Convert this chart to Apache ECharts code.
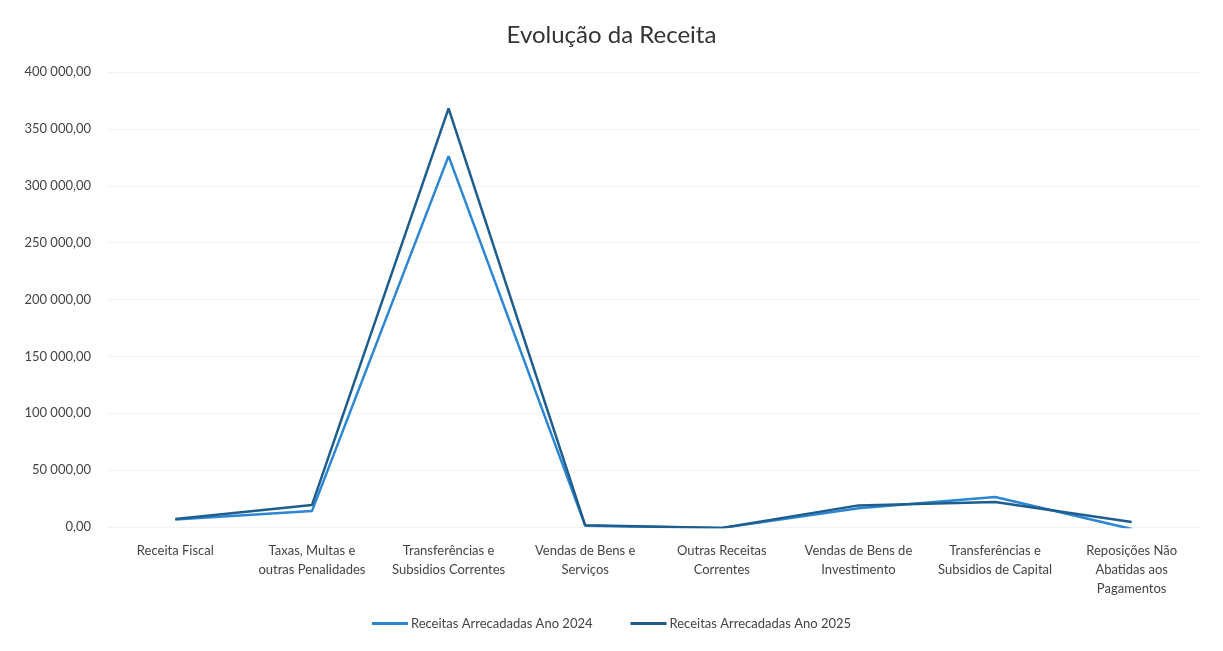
<!DOCTYPE html>
<html>
<head>
<meta charset="utf-8">
<title>Evolução da Receita</title>
<script src="https://cdn.jsdelivr.net/npm/echarts@6/dist/echarts.min.js"></script>
<style>
    html, body { margin: 0; padding: 0; background: #fff; }
    #chart { width: 1223px; height: 651px; }
</style>
</head>
<body>
<div id="chart"></div>
<script>
    // categorias (eixo x)
    var categorias = [
        'Receita Fiscal',
        'Taxas, Multas e\noutras Penalidades',
        'Transferências e\nSubsidios Correntes',
        'Vendas de Bens e\nServiços',
        'Outras Receitas\nCorrentes',
        'Vendas de Bens de\nInvestimento',
        'Transferências e\nSubsidios de Capital',
        'Reposições Não\nAbatidas aos\nPagamentos'
    ];
    // valores
    var receitas2024 = [6500, 14000, 326000, 1200, -800, 16500, 26400, -1800];
    var receitas2025 = [7000, 19300, 368000, 1500, -800, 19000, 22000, 4400];
    var nomes = ['Receitas Arrecadadas Ano 2024', 'Receitas Arrecadadas Ano 2025'];

    // formato 400 000,00
    function formatar(v) {
        var s = Math.abs(v).toFixed(2).split('.');
        var inteiro = s[0].replace(/\B(?=(\d{3})+(?!\d))/g, ' ');
        return (v < 0 ? '-' : '') + inteiro + ',' + s[1];
    }

    var chart = echarts.init(document.getElementById('chart'));
    var option = {
        color: ['#2b86d3', '#1e5d8c'],
        textStyle: { fontFamily: 'Lato, "Open Sans", sans-serif' },
        title: {
            text: 'Evolução da Receita',
            left: 'center',
            top: 18,
            textStyle: { fontSize: 24, fontWeight: 'normal', color: '#333', fontFamily: 'Lato, "Open Sans", sans-serif' }
        },
        legend: {
            bottom: 16,
            left: 'center',
            itemGap: 38,
            itemWidth: 36,
            itemHeight: 3,
            icon: 'rect',
            textStyle: { fontSize: 13, color: '#444', padding: [0, 0, 0, -2] },
            data: nomes
        },
        grid: {
            left: 107,
            right: 23,
            top: 72,
            bottom: 124
        },
        xAxis: {
            type: 'category',
            data: categorias,
            boundaryGap: true,
            axisLine: { show: false },
            axisTick: { show: false },
            axisLabel: {
                interval: 0,
                margin: 14,
                fontSize: 13,
                lineHeight: 19,
                color: '#444'
            }
        },
        yAxis: {
            type: 'value',
            min: 0,
            max: 400000,
            interval: 50000,
            axisLine: { show: false },
            axisTick: { show: false },
            axisLabel: {
                margin: 16,
                fontSize: 13,
                color: '#444',
                formatter: formatar
            },
            splitLine: { lineStyle: { color: '#f2f2f2' } }
        },
        series: [
            {
                name: nomes[0],
                type: 'line',
                data: receitas2024,
                symbol: 'none',
                clip: false,
                lineStyle: { width: 2.5 }
            },
            {
                name: nomes[1],
                type: 'line',
                data: receitas2025,
                symbol: 'none',
                clip: false,
                lineStyle: { width: 2.5 }
            }
        ]
    };
    chart.setOption(option);
</script>
</body>
</html>
